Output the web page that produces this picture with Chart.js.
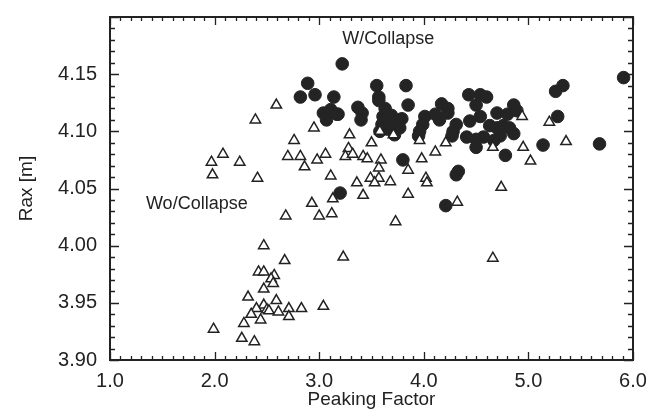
<!DOCTYPE html>
<html>
<head>
<meta charset="utf-8">
<script src="https://cdn.jsdelivr.net/npm/chart.js@4.4.1/dist/chart.umd.min.js"></script>
<style>
    body { margin: 0; background: #ffffff; }
    canvas { display: block; }
</style>
</head>
<body>
<canvas id="graf" width="672" height="414"></canvas>
<script>
// W/Collapse (filled circles)
const z_kolapsom_x = [3.22, 2.89, 2.82, 2.96, 3.14, 3.04, 3.11, 3.18, 3.07, 3.37, 3.41, 3.40, 3.55, 3.57, 3.83, 3.85,
    3.63, 3.61, 3.69, 3.79, 3.60, 3.71, 3.65, 3.58, 3.74, 3.77, 3.72, 4.01, 3.99, 3.96, 3.95, 4.11, 4.15, 4.17, 4.23,
    4.23, 4.31, 4.28, 4.27, 4.43, 4.54, 4.60, 4.50, 4.44, 4.54, 4.41, 4.50, 4.57, 4.50, 4.63, 4.70, 4.76, 4.82, 4.86,
    4.73, 4.67, 4.70, 4.80, 4.86, 4.89, 4.78, 3.80, 4.33, 4.31, 4.21, 3.20, 5.91, 5.33, 5.26, 5.28, 5.14, 5.68, 3.57,
    3.17, 3.62, 3.66];
const z_kolapsom_y = [4.159, 4.142, 4.130, 4.132, 4.130, 4.116, 4.119, 4.115, 4.110, 4.121, 4.116, 4.110, 4.140, 4.130, 4.140, 4.123,
    4.120, 4.113, 4.114, 4.111, 4.106, 4.105, 4.102, 4.100, 4.109, 4.103, 4.097, 4.113, 4.106, 4.100, 4.096, 4.115, 4.110, 4.124, 4.120,
    4.116, 4.106, 4.100, 4.096, 4.132, 4.132, 4.130, 4.123, 4.109, 4.113, 4.095, 4.093, 4.095, 4.086, 4.105, 4.103, 4.105, 4.103, 4.098,
    4.096, 4.092, 4.116, 4.115, 4.123, 4.118, 4.079, 4.075, 4.065, 4.062, 4.035, 4.046, 4.147, 4.140, 4.135, 4.113, 4.088, 4.089, 4.127,
    4.115, 4.108, 4.112];

// Wo/Collapse (open triangles)
const brez_kolapsa_x = [2.59, 2.39, 2.95, 3.29, 2.76, 3.28, 2.08, 1.97, 2.24, 2.70, 2.82, 3.06, 2.98, 2.86, 3.25, 3.32,
    1.98, 2.41, 3.11, 3.36, 2.93, 3.13, 2.68, 3.00, 3.12, 2.47, 2.67, 2.42, 2.47, 2.57, 2.54, 2.56, 2.47, 2.32, 2.59,
    2.47, 2.40, 2.50, 2.52, 2.61, 2.35, 2.71, 2.83, 3.04, 2.71, 2.44, 2.28, 1.99, 2.26, 2.38, 3.42, 3.46, 3.59, 3.57,
    3.85, 3.98, 5.02, 3.49, 3.57, 3.53, 3.68, 4.02, 4.03, 4.74, 3.42, 3.85, 4.32, 3.73, 3.23, 4.66, 5.20, 4.94, 4.95,
    5.36, 4.66, 3.58, 3.71, 3.50, 3.96, 4.21, 4.11];
const brez_kolapsa_y = [4.123, 4.110, 4.103, 4.097, 4.092, 4.085, 4.080, 4.073, 4.073, 4.078, 4.078, 4.080, 4.075, 4.069, 4.078, 4.080,
    4.062, 4.059, 4.061, 4.055, 4.037, 4.041, 4.026, 4.026, 4.028, 4.000, 3.987, 3.977, 3.977, 3.974, 3.971, 3.967, 3.962, 3.955, 3.952,
    3.948, 3.945, 3.944, 3.943, 3.942, 3.940, 3.945, 3.945, 3.947, 3.938, 3.935, 3.932, 3.927, 3.919, 3.916, 4.078, 4.076, 4.075, 4.068,
    4.066, 4.076, 4.074, 4.059, 4.059, 4.055, 4.056, 4.059, 4.055, 4.051, 4.044, 4.045, 4.038, 4.021, 3.990, 3.989, 4.108, 4.113, 4.086,
    4.091, 4.086, 4.100, 4.097, 4.090, 4.092, 4.090, 4.082];

const x_oznake = [1, 2, 3, 4, 5, 6];
const y_oznake = [3.90, 3.95, 4.00, 4.05, 4.10, 4.15];

let barva_crt = '#222222';
let barva_pike = '#242424';
let pisava = 'Liberation Sans';
let vel_pisave = 20;

function v_tocke(xs, ys) {
    return xs.map((x, i) => ({ x: x, y: ys[i] }));
}

// okvir z notranjimi crticami in napisi
const okvir = {
    id: 'okvir',
    afterDraw(chart) {
        const c = chart.ctx;
        const a = chart.chartArea;
        const sx = chart.scales.x;
        const sy = chart.scales.y;
        c.save();
        c.strokeStyle = barva_crt;
        c.lineWidth = 2;
        c.strokeRect(a.left, a.top, a.right - a.left, a.bottom - a.top);
        c.lineWidth = 1.3;
        c.beginPath();
        for (let i = 10; i <= 60; i++) {
            const px = Math.round(sx.getPixelForValue(i / 10)) + 0.5;
            const d = i % 10 === 0 ? 8 : 4;
            c.moveTo(px, a.bottom); c.lineTo(px, a.bottom - d);
            c.moveTo(px, a.top); c.lineTo(px, a.top + d);
        }
        for (let i = 390; i <= 420; i++) {
            const py = Math.round(sy.getPixelForValue(i / 100)) + 0.5;
            const d = i % 5 === 0 ? 9 : 5;
            c.moveTo(a.left, py); c.lineTo(a.left + d, py);
            c.moveTo(a.right, py); c.lineTo(a.right - d, py);
        }
        c.stroke();
        c.fillStyle = barva_crt;
        c.font = '18px ' + pisava;
        c.textAlign = 'center';
        c.textBaseline = 'middle';
        c.fillText('W/Collapse', sx.getPixelForValue(3.66), sy.getPixelForValue(4.181));
        c.fillText('Wo/Collapse', sx.getPixelForValue(1.83), sy.getPixelForValue(4.036));
        c.restore();
    }
};

const platno = document.getElementById('graf').getContext('2d');
const graf = new Chart(platno, {
    type: 'scatter',
    data: {
        datasets: [{
            label: 'Wo/Collapse',
            data: v_tocke(brez_kolapsa_x, brez_kolapsa_y),
            pointStyle: 'triangle',
            pointRadius: 6,
            backgroundColor: '#ffffff',
            borderColor: barva_crt,
            borderWidth: 1.5,
            order: 1
        }, {
            label: 'W/Collapse',
            data: v_tocke(z_kolapsom_x, z_kolapsom_y),
            pointStyle: 'circle',
            pointRadius: 6.3,
            backgroundColor: barva_pike,
            borderColor: barva_pike,
            borderWidth: 1,
            order: 2
        }]
    },
    options: {
        responsive: false,
        animation: false,
        layout: { padding: { top: 7, right: 39, left: 0, bottom: 0 } },
        plugins: {
            legend: { display: false },
            tooltip: { enabled: false }
        },
        scales: {
            x: {
                type: 'linear',
                min: 1,
                max: 6,
                afterBuildTicks: (s) => { s.ticks = x_oznake.map(v => ({ value: v })); },
                afterFit: (s) => { s.height = 54; },
                grid: { display: false },
                border: { display: false },
                ticks: {
                    padding: 1,
                    color: barva_crt,
                    font: { size: vel_pisave, family: pisava },
                    callback: (v) => v.toFixed(1)
                },
                title: {
                    display: true,
                    text: 'Peaking Factor',
                    color: barva_crt,
                    padding: { top: 0, bottom: 3 },
                    font: { size: 19, family: pisava }
                }
            },
            y: {
                type: 'linear',
                min: 3.90,
                max: 4.20,
                afterBuildTicks: (s) => { s.ticks = y_oznake.map(v => ({ value: v })); },
                afterFit: (s) => { s.width = 110; },
                grid: { display: false },
                border: { display: false },
                ticks: {
                    padding: 5,
                    color: barva_crt,
                    font: { size: vel_pisave, family: pisava },
                    callback: (v) => v.toFixed(2)
                },
                title: {
                    display: true,
                    text: 'Rax [m]',
                    color: barva_crt,
                    padding: { top: 15, bottom: 0 },
                    font: { size: 19, family: pisava }
                }
            }
        }
    },
    plugins: [okvir]
});
</script>
</body>
</html>
